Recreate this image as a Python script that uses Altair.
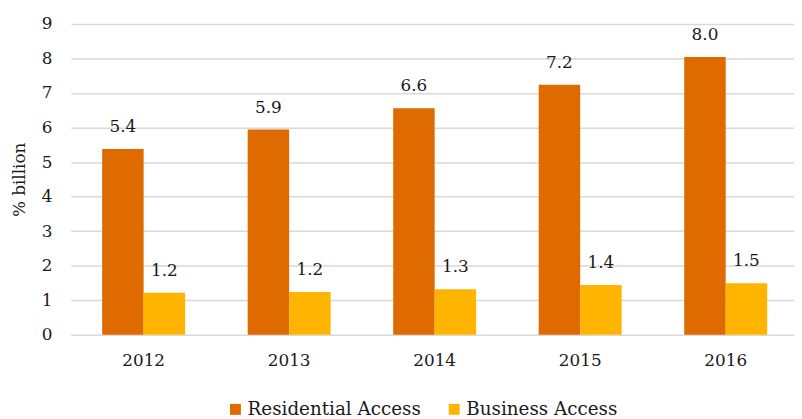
import altair as alt
import pandas as pd

years = ["2012", "2013", "2014", "2015", "2016"]
series = ["Residential Access", "Business Access"]
residential = [5.38, 5.94, 6.56, 7.24, 8.04]
business = [1.22, 1.24, 1.32, 1.44, 1.49]
colors = ["#DE6A00", "#FFB400"]
y_ticks = [0, 1, 2, 3, 4, 5, 6, 7, 8, 9]

rows = []
for i, yr in enumerate(years):
    rows.append({"year": yr, "series": series[0], "value": residential[i]})
    rows.append({"year": yr, "series": series[1], "value": business[i]})
df = pd.DataFrame(rows)

FONT = "DejaVu Serif"

x_scale = alt.Scale(paddingInner=0.43, paddingOuter=0.198, align=0.543)
y_scale = alt.Scale(domain=[0, 9], nice=False, zero=True)

x_enc = alt.X("year:N", sort=years, scale=x_scale,
              axis=alt.Axis(title=None, labelAngle=0, ticks=False, tickSize=0, domain=False,
                            labelPadding=31, labelBaseline="alphabetic",
                            labelFont=FONT, labelFontSize=17, labelColor="#1a1a1a"))
xo = alt.XOffset("series:N", sort=series, scale=alt.Scale(paddingInner=0, paddingOuter=0))
y_enc = alt.Y("value:Q", scale=y_scale, stack=None,
              axis=alt.Axis(title="% billion", values=y_ticks, ticks=False, tickSize=0,
                            domain=False, labelOverlap=False,
                            labelPadding=19, labelFont=FONT, labelFontSize=17, labelColor="#1a1a1a",
                            titleFont=FONT, titleFontSize=17, titleFontWeight="normal",
                            titleColor="#1a1a1a", titleAngle=270, titleBaseline="middle",
                            titleX=-52, titleY=157, titleAlign="center",
                            grid=True, gridColor="#D9D9D9", gridWidth=1.5))

base = alt.Chart(df).encode(x=x_enc, xOffset=xo, y=y_enc)

bars = base.mark_bar().encode(
    color=alt.Color("series:N", sort=series,
                    scale=alt.Scale(domain=series, range=colors),
                    legend=alt.Legend(title=None, orient="none", direction="horizontal",
                                      legendX=157, legendY=380, symbolType="square",
                                      symbolSize=121, symbolStrokeWidth=0, labelOffset=3,
                                      columnPadding=24, labelFont=FONT, labelFontSize=18.5,
                                      labelColor="#1a1a1a", labelLimit=300)),
)

labels = base.mark_text(baseline="alphabetic", dy=-17, font=FONT, fontSize=17,
                        color="#1a1a1a").encode(
    text=alt.Text("value:Q", format=".1f"),
)

chart = (bars + labels).properties(
    width=730, height=314,
    autosize=alt.AutoSizeParams(type="none"),
    padding={"left": 63.5, "top": 14, "right": 0.5, "bottom": 83},
).configure_view(stroke=None)

chart.save("out.html", embed_options={"renderer": "svg", "actions": False})
